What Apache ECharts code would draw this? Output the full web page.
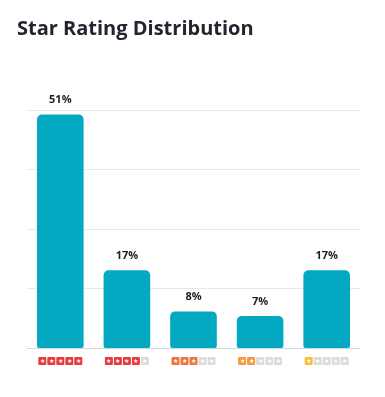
<!DOCTYPE html>
<html>
<head>
<meta charset="utf-8">
<script src="https://cdn.jsdelivr.net/npm/echarts@6/dist/echarts.min.js"></script>
<style>html,body{margin:0;padding:0;background:#fff;}#c{width:385px;height:397px;}</style>
</head>
<body>
<div id="c"></div>
<script>
const categories = ['5', '4', '3', '2', '1'];
const values = [51, 17, 8, 7, 17];
const starColors = ['#e63a3e', '#e63a3e', '#ee763e', '#f39b3e', '#f5c036'];
const emptyColor = '#dcdcdc';

const rich = {};
starColors.forEach((c, i) => {
  rich['f' + i] = {backgroundColor: c, color: '#fff', width: 8, height: 8, lineHeight: 8, align: 'center', fontSize: 6, borderRadius: 1};
});
rich.e = {backgroundColor: emptyColor, color: '#fff', width: 8, height: 8, lineHeight: 8, align: 'center', fontSize: 6, borderRadius: 1};
rich.g = {width: 1};

const chart = echarts.init(document.getElementById('c'));
chart.setOption({
  animation: false,
  title: {
    text: 'Star Rating Distribution',
    left: 12, top: 14,
    textStyle: {fontFamily: 'Open Sans', fontWeight: 'bold', fontSize: 20, color: '#24242f'}
  },
  grid: {left: 27, right: 25, top: 110, bottom: 49},
  xAxis: {
    type: 'category',
    data: categories,
    axisTick: {show: false},
    axisLine: {lineStyle: {color: '#d3d6dd', width: 1}},
    axisLabel: {
      interval: 0,
      hideOverlap: false,
      margin: 7,
      formatter: function (v, idx) {
        const n = parseInt(v, 10);
        const parts = [];
        for (let k = 0; k < 5; k++) {
          parts.push(k < n ? '{f' + idx + '|★}' : '{e|★}');
        }
        return parts.join('{g| }');
      },
      rich: rich
    }
  },
  yAxis: {
    type: 'value', min: 0, max: 52, interval: 13,
    axisLabel: {show: false},
    axisLine: {show: false},
    axisTick: {show: false},
    splitLine: {lineStyle: {color: '#e8e8e8'}}
  },
  series: [{
    type: 'bar',
    data: values,
    barWidth: '70%',
    itemStyle: {color: '#03a9c1', borderRadius: [5, 5, 2, 2]},
    label: {
      show: true, position: 'top', distance: 9,
      formatter: '{c}%',
      fontFamily: 'Open Sans', fontWeight: 'bold', fontSize: 11, color: '#1e1e1e'
    }
  }]
});
</script>
</body>
</html>
